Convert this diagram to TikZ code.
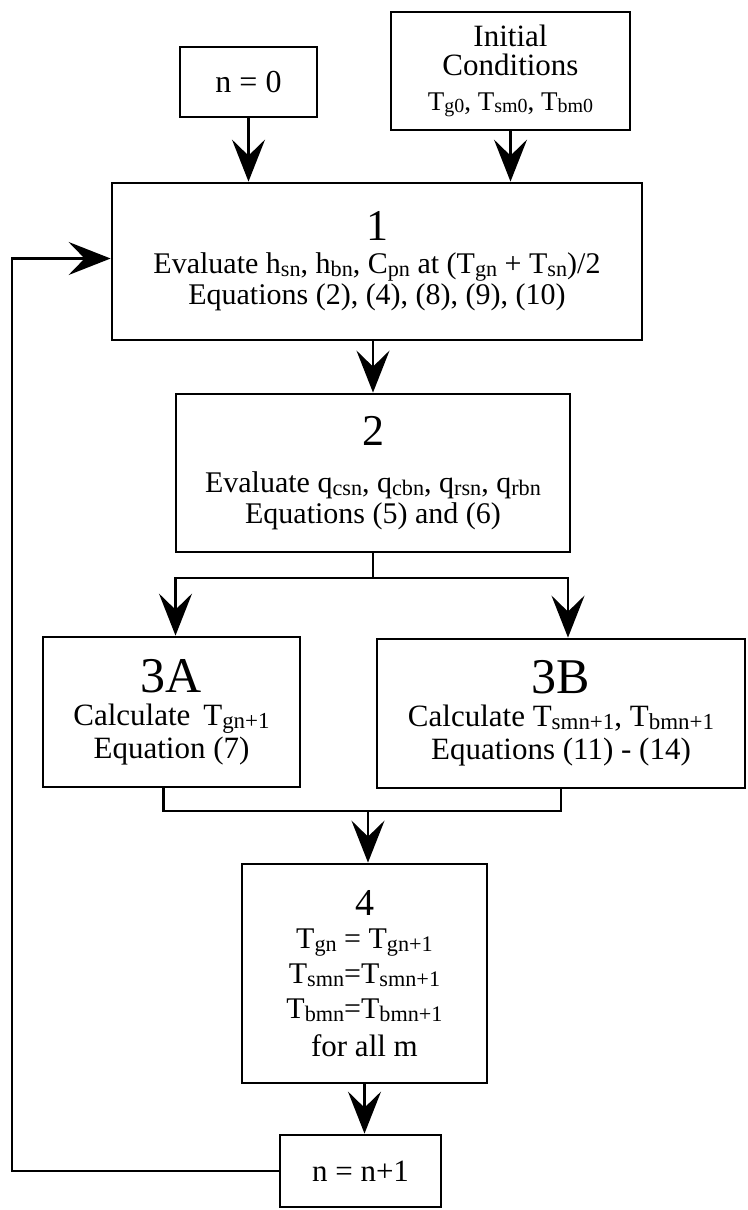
\documentclass[tikz,border=0pt]{standalone}
\usepackage{fontspec}
\setmainfont{Liberation Serif}
\usetikzlibrary{arrows.meta}

\newcommand{\lowsub}[1]{\raisebox{-0.2ex}{\scalebox{0.74}{#1}}}
\newcommand{\numsize}{\fontsize{44}{46}\selectfont}
\newcommand{\bignum}{\fontsize{50}{50}\selectfont}

\begin{document}
\begin{tikzpicture}[
x=1pt, y=-1pt,
box/.style={draw, line width=2.8pt, align=center, inner sep=0pt},
link/.style={line width=2.4pt},
arr/.style={link, -{Stealth[length=42pt, width=33pt, inset=16pt]}}
]
\useasboundingbox (0,0) rectangle (747,1210);

% start boxes
\node[box, minimum width=137pt, minimum height=70pt,
      font=\fontsize{32}{34}\selectfont] (nzero) at (248.5,82) {n = 0};
\node[box, minimum width=239pt, minimum height=118pt,
      font=\fontsize{31}{29}\selectfont] (init) at (510.5,71)
    {Initial\\ Conditions\\[6pt]
     {\fontsize{27}{29}\selectfont T\lowsub{g0}, T\lowsub{sm0}, T\lowsub{bm0}}};

% main steps
\node[box, minimum width=530pt, minimum height=157pt,
      font=\fontsize{30}{31}\selectfont] (s1) at (377,261.5)
    {{\numsize 1}\\[2pt]
     Evaluate h\lowsub{sn}, h\lowsub{bn}, C\lowsub{pn} at (T\lowsub{gn} + T\lowsub{sn})/2\\
     Equations (2), (4), (8), (9), (10)};
\node[box, minimum width=394pt, minimum height=158pt,
      font=\fontsize{30}{31}\selectfont] (s2) at (373,473)
    {{\numsize 2}\\[16pt]
     Evaluate q\lowsub{csn}, q\lowsub{cbn}, q\lowsub{rsn}, q\lowsub{rbn}\\
     Equations (5) and (6)};
\node[box, minimum width=257pt, minimum height=150pt,
      font=\fontsize{31}{33}\selectfont] (s3a) at (171.5,712)
    {{\bignum 3A}\\
     Calculate\, T\lowsub{gn+1}\\
     Equation (7)};
\node[box, minimum width=368pt, minimum height=149pt,
      font=\fontsize{31}{33}\selectfont] (s3b) at (561,713.5)
    {{\bignum 3B}\\
     Calculate T\lowsub{smn+1}, T\lowsub{bmn+1}\\
     Equations (11) - (14)};
\node[box, minimum width=245pt, minimum height=219pt,
      font=\fontsize{30}{35}\selectfont] (s4) at (364.5,973.5)
    {{\fontsize{38}{38}\selectfont 4}\\[-2pt]
     T\lowsub{gn} = T\lowsub{gn+1}\\
     T\lowsub{smn}=T\lowsub{smn+1}\\
     T\lowsub{bmn}=T\lowsub{bmn+1}\\[3pt]
     {\fontsize{31}{35}\selectfont for all m}};
\node[box, minimum width=161pt, minimum height=72pt,
      font=\fontsize{31}{33}\selectfont] (ninc) at (360.5,1171) {n = n+1};

% branch points
\coordinate (fork) at (373,578);
\coordinate (join) at (368,811);
\coordinate (loop) at (12,0);

% connectors
\draw[arr] (nzero.south) -- (nzero.south |- s1.north);
\draw[arr] (init.south) -- (init.south |- s1.north);
\draw[arr] (s1.south -| s2.north) -- (s2.north);
\draw[link] (s2.south) -- (fork);
\draw[arr] (fork) -| ([xshift=4pt]s3a.north);
\draw[arr] (fork) -| ([xshift=7pt]s3b.north);
\draw[link] ([xshift=-8pt]s3a.south) |- (join);
\draw[link] (s3b.south) |- (join);
\draw[arr] (join) -- (join |- s4.north);
\draw[arr] (s4.south) -- (s4.south |- ninc.north);
\draw[arr] (ninc.west) -- (ninc.west -| loop) |- ([yshift=3pt]s1.west);

\end{tikzpicture}
\end{document}
